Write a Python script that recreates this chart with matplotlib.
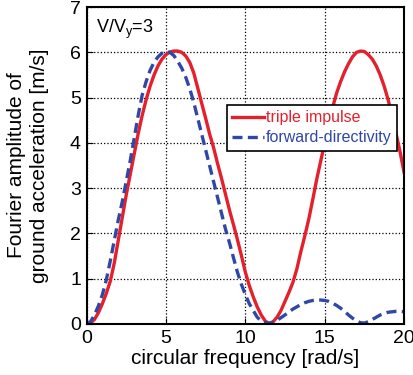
import numpy as np
import matplotlib
matplotlib.use("Agg")
import matplotlib.pyplot as plt

plt.rcParams['font.family'] = ['Liberation Sans', 'DejaVu Sans']
plt.rcParams['mathtext.fontset'] = 'custom'
plt.rcParams['mathtext.rm'] = 'Liberation Sans'

# circular frequency [rad/s], every 0.25
omega = np.arange(0, 20.001, 0.25)
triple = [0.0, 0.02, 0.1, 0.25, 0.45, 0.68, 0.95, 1.35, 1.85, 2.35,
          2.85, 3.3, 3.75, 4.2, 4.6, 4.95, 5.25, 5.5, 5.7, 5.85,
          5.95, 6.01, 6.03, 6.03, 6.0, 5.92, 5.78, 5.55, 5.22, 4.88,
          4.55, 4.2, 3.9, 3.55, 3.22, 2.87, 2.52, 2.2, 1.87, 1.52,
          1.15, 0.85, 0.6, 0.38, 0.2, 0.07, 0.0, 0.05, 0.15, 0.3,
          0.5, 0.7, 0.92, 1.22, 1.6, 1.95, 2.32, 2.75, 3.2, 3.6,
          4.0, 4.4, 4.78, 5.1, 5.35, 5.57, 5.75, 5.9, 6.0, 6.03,
          6.02, 5.95, 5.85, 5.7, 5.5, 5.25, 4.95, 4.6, 4.2, 3.8,
          3.35]
fwd = [0.0, 0.05, 0.2, 0.4, 0.65, 0.98, 1.4, 1.85, 2.3, 2.7,
       3.15, 3.6, 4.1, 4.6, 5.05, 5.35, 5.6, 5.78, 5.9, 5.98,
       6.02, 6.0, 5.93, 5.8, 5.65, 5.45, 5.2, 4.9, 4.55, 4.2,
       3.85, 3.5, 3.15, 2.8, 2.45, 2.1, 1.8, 1.47, 1.15, 0.88,
       0.65, 0.45, 0.3, 0.15, 0.07, 0.03, 0.02, 0.04, 0.08, 0.14,
       0.2, 0.27, 0.33, 0.38, 0.43, 0.47, 0.5, 0.52, 0.53, 0.53,
       0.52, 0.5, 0.46, 0.41, 0.35, 0.28, 0.2, 0.13, 0.07, 0.03,
       0.02, 0.05, 0.1, 0.15, 0.2, 0.23, 0.26, 0.27, 0.28, 0.28,
       0.27]

red = '#e3202b'
blue = '#2f47a6'

fig = plt.figure(figsize=(4.14, 3.75), dpi=100)
ax = fig.add_axes([0.209, 0.136, 0.767, 0.845])

ax.plot(omega, triple, color=red, lw=2.4, label='triple impulse')
ax.plot(omega, fwd, color=blue, lw=2.4, ls=(0, (3, 1.6)), label='forward-directivity')

ax.set_xlim(0, 20)
ax.set_ylim(0, 7)
ax.set_xticks([0, 5, 10, 15, 20])
ax.set_yticks(range(8))
ax.grid(True, color='black', ls=':', lw=0.9)
ax.tick_params(direction='in', labelsize=14, length=4, pad=4)
for s in ax.spines.values():
    s.set_linewidth(1.5)

ax.set_xlabel('circular frequency [rad/s]', fontsize=15, labelpad=2)
ax.set_ylabel('Fourier amplitude of\nground acceleration [m/s]', fontsize=15,
              linespacing=1.3, labelpad=15)

ax.text(0.03, 0.965, r'V/V$_\mathregular{y}$=3', transform=ax.transAxes,
        fontsize=13, va='top', ha='left')

leg = ax.legend(loc='upper right', bbox_to_anchor=(0.978, 0.692),
                borderaxespad=0, fancybox=False, framealpha=1,
                edgecolor='black', fontsize=11.5, handlelength=2.0,
                handletextpad=0.1, borderpad=0.35, labelspacing=0.3)
leg.get_frame().set_linewidth(1.2)
for t, c in zip(leg.get_texts(), [red, blue]):
    t.set_color(c)

fig.savefig('out.png', dpi=100)
